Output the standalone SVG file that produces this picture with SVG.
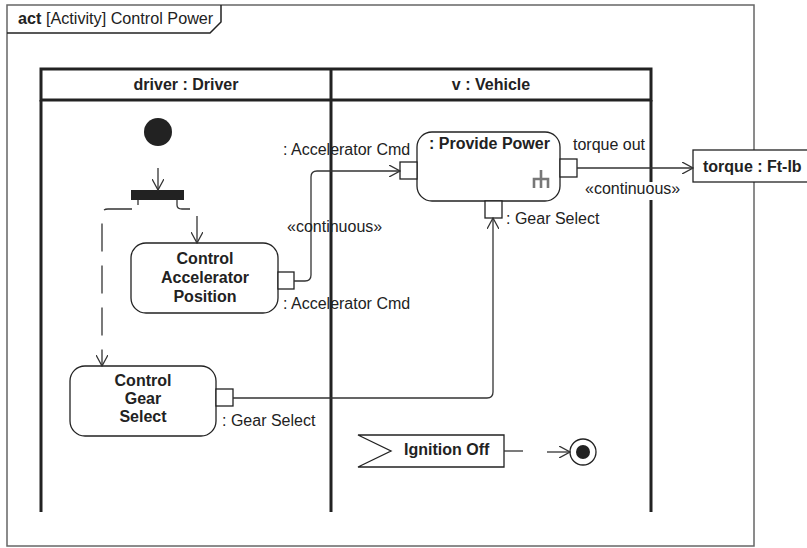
<svg xmlns="http://www.w3.org/2000/svg" width="807" height="548" viewBox="0 0 807 548">
<style>
text{font-family:"Liberation Sans",Arial,sans-serif;font-size:16px;fill:#222}
.b{font-weight:bold}
.m{text-anchor:middle}
.act{fill:#fff;stroke:#222;stroke-width:1.3}
.pin{fill:#fff;stroke:#222;stroke-width:1.3}
.part{fill:none;stroke:#222;stroke-width:3}
.flow{fill:none;stroke:#333;stroke-width:1.3}
</style>
<defs>
<marker id="arr" viewBox="0 0 12 12" refX="11" refY="6" markerWidth="12" markerHeight="12" markerUnits="userSpaceOnUse" orient="auto">
<path d="M0,0 L11,6 L0,12" fill="none" stroke="#333" stroke-width="1.3"/>
</marker>
</defs>
<rect width="807" height="548" fill="#fff"/>
<g id="frame">
<rect x="7" y="5" width="747" height="541" fill="none" stroke="#666" stroke-width="1.5"/>
<path d="M7,33 H210 L221,22 V5" fill="none" stroke="#222" stroke-width="1.5"/>
<text x="18" y="24" style="font-size:16.2px"><tspan class="b">act</tspan> [Activity] Control Power</text>
</g>
<g id="partitions">
<rect x="41" y="69" width="610" height="31" class="part" stroke-width="2.5"/>
<line x1="331" y1="69" x2="331" y2="512" class="part"/>
<line x1="41" y1="100" x2="41" y2="512" class="part"/>
<line x1="651" y1="100" x2="651" y2="512" class="part"/>
<text x="186" y="90" class="b m">driver : Driver</text>
<text x="491" y="90" class="b m">v : Vehicle</text>
</g>
<g id="initial"><circle cx="158" cy="132" r="14" fill="#222"/></g>
<g id="fork"><rect x="131" y="190" width="53" height="10" fill="#222"/></g>
<g id="controlAccel">
<rect x="131" y="243" width="147" height="70" rx="15" class="act"/>
<text x="205" y="264" class="b m">Control</text>
<text x="205" y="283" class="b m">Accelerator</text>
<text x="205" y="302" class="b m">Position</text>
<rect x="278" y="272" width="16" height="17" class="pin"/>
<text x="283" y="309">: Accelerator Cmd</text>
</g>
<g id="providePower">
<rect x="417" y="132" width="143" height="69" rx="15" class="act"/>
<text x="429" y="149" class="b">: Provide Power</text>
<g fill="none" stroke="#777" stroke-width="2.6">
<path d="M541,170 V188 M534,188 V179 H548 V188"/>
</g>
<rect x="400" y="162" width="17" height="17" class="pin"/>
<text x="283" y="155">: Accelerator Cmd</text>
<rect x="485" y="201" width="17" height="17" class="pin"/>
<text x="506" y="224">: Gear Select</text>
<rect x="560" y="159" width="17" height="18" class="pin"/>
<text x="573" y="150">torque out</text>
</g>
<g id="torque">
<rect x="693" y="150" width="120" height="32" fill="#fff" stroke="#222" stroke-width="1.3"/>
<text x="703" y="172" class="b">torque : Ft-lb</text>
</g>
<g id="controlGear">
<rect x="70" y="366" width="146" height="70" rx="15" class="act"/>
<text x="143" y="386" class="b m">Control</text>
<text x="143" y="404" class="b m">Gear</text>
<text x="143" y="422" class="b m">Select</text>
<rect x="216" y="389" width="17" height="17" class="pin"/>
<text x="222" y="426">: Gear Select</text>
</g>
<g id="ignitionOff">
<path d="M358,435 H504 V467 H358 L391,451 Z" fill="#fff" stroke="#222" stroke-width="1.3"/>
<text x="404" y="455" class="b">Ignition Off</text>
</g>
<g id="final">
<circle cx="583" cy="452" r="13" fill="#fff" stroke="#222" stroke-width="1.3"/>
<circle cx="583" cy="452" r="7" fill="#222"/>
</g>
<g id="connectors">
<line x1="158" y1="168" x2="158" y2="190" class="flow" marker-end="url(#arr)"/>
<path d="M138,200 V205" class="flow"/>
<path d="M132,209 H108 Q102,209 102,215 V366" class="flow" stroke-dasharray="28,14" marker-end="url(#arr)"/>
<path d="M177,200 V205 Q177,209 182,209 H190" class="flow"/>
<line x1="197" y1="216" x2="197" y2="243" class="flow" marker-end="url(#arr)"/>
<path d="M294,281 H305 Q311,281 311,275 V177 Q311,171 317,171 H400" class="flow" marker-end="url(#arr)"/>
<path d="M233,398 H487 Q493,398 493,392 V218" class="flow" marker-end="url(#arr)"/>
<line x1="577" y1="168" x2="693" y2="168" class="flow" stroke-width="2" marker-end="url(#arr)"/>
<text x="287" y="232">«continuous»</text>
<rect x="647" y="182" width="8" height="18" fill="#fff"/>
<text x="585" y="194">«continuous»</text>
<line x1="504" y1="451" x2="523" y2="451" class="flow"/>
<line x1="547" y1="452" x2="570" y2="452" class="flow" marker-end="url(#arr)"/>
</g>
</svg>
